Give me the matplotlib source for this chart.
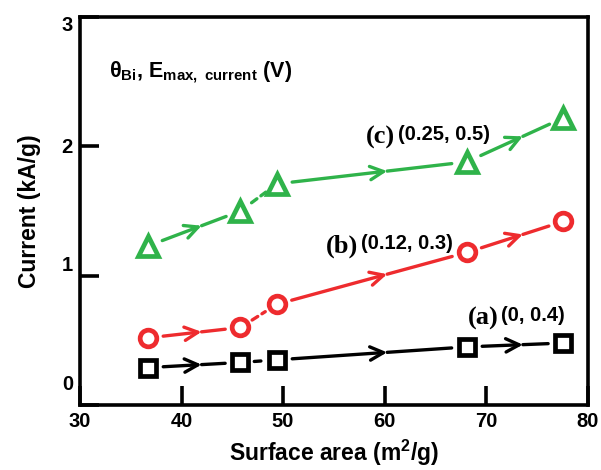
import matplotlib
matplotlib.use('Agg')
import matplotlib.pyplot as plt
from matplotlib.transforms import ScaledTranslation

plt.rcParams['font.family'] = ['Liberation Sans', 'DejaVu Sans']
plt.rcParams['font.weight'] = 'bold'
plt.rcParams['mathtext.fontset'] = 'custom'
plt.rcParams['mathtext.rm'] = 'Liberation Sans:bold'
plt.rcParams['mathtext.it'] = 'Liberation Sans:bold'
plt.rcParams['mathtext.bf'] = 'Liberation Sans:bold'
plt.rcParams['xtick.direction'] = 'in'
plt.rcParams['ytick.direction'] = 'in'
plt.rcParams['xtick.major.size'] = 14
plt.rcParams['ytick.major.size'] = 14
plt.rcParams['xtick.major.width'] = 2.6
plt.rcParams['ytick.major.width'] = 2.6

# surface area (m2/g) of the five catalysts
surface_area = [36.7, 45.8, 49.4, 68.1, 77.6]
# current (kA/g) for each Bi coverage
current_a = [0.29, 0.33, 0.35, 0.45, 0.48]
current_b = [0.52, 0.60, 0.78, 1.18, 1.42]
current_c = [1.23, 1.50, 1.71, 1.88, 2.22]

series_tags = ['(a)', '(b)', '(c)']
series_params = ['(0, 0.4)', '(0.12, 0.3)', '(0.25, 0.5)']

x_ticks = [30, 40, 50, 60, 70, 80]
y_ticks = [0, 1, 2, 3]


def draw_series(ax, xs, ys, color, marker, ms):
    ax.plot(xs, ys, linestyle='none', marker=marker, ms=ms,
            mfc='white', mec=color, mew=3.4, zorder=5)
    for i in range(len(xs) - 1):
        p1 = (xs[i], ys[i])
        p2 = (xs[i + 1], ys[i + 1])
        if i == 1:
            # short dashed link between the two close samples
            ax.annotate('', xy=p2, xytext=p1,
                        arrowprops=dict(arrowstyle='-', color=color, lw=2.4,
                                        linestyle=(0, (2.0, 1.5)),
                                        shrinkA=10, shrinkB=10))
            continue
        mid = (p1[0] + 0.58 * (p2[0] - p1[0]), p1[1] + 0.58 * (p2[1] - p1[1]))
        ax.annotate('', xy=mid, xytext=p1,
                    arrowprops=dict(arrowstyle='->', color=color, lw=2.4,
                                    mutation_scale=24, shrinkA=11, shrinkB=0))
        ax.annotate('', xy=p2, xytext=mid,
                    arrowprops=dict(arrowstyle='-', color=color, lw=2.4,
                                    shrinkA=0, shrinkB=11))


fig = plt.figure(figsize=(6.01, 4.70), dpi=100)
ax = fig.add_axes([0.133, 0.138, 0.845, 0.826])
ax.set_axisbelow(False)

draw_series(ax, surface_area, current_a, 'black', 's', 11)
draw_series(ax, surface_area, current_b, '#ee2b2e', 'o', 12)
draw_series(ax, surface_area, current_c, '#2fb34a', '^', 15)

ax.set_xlim(30, 80)
ax.set_ylim(0, 3)
ax.set_xticks(x_ticks)
ax.set_yticks(y_ticks)
ax.tick_params(labelsize=14.5, pad=5)
for sp in ax.spines.values():
    sp.set_linewidth(2.6)

# nudge the y tick labels the way they sit on the axis
for lab, dy in zip(ax.get_yticklabels(), [16, 8.5, 0.5, -4.5]):
    lab.set_transform(lab.get_transform() + ScaledTranslation(0, dy / 72, fig.dpi_scale_trans))

ax.set_xlabel('Surface area (m$^2$/g)', fontsize=16.5, fontweight='bold', labelpad=5)
ax.set_ylabel('Current (kA/g)', fontsize=16.5, fontweight='bold', labelpad=15)

ax.text(32.9, 2.57, r'$\theta_{Bi}$, E$_{max,\ current}$ (V)', fontsize=15.5,
        fontweight='bold', ha='left', va='center')

# series tags: serif letter followed by (theta, E) pair
tag_pos = [(71.2, 0.67), (57.4, 1.23), (61.0, 2.07)]
for tag, par, (tx, ty) in zip(series_tags, series_params, tag_pos):
    ax.text(tx, ty, tag, family='Liberation Serif', fontsize=19,
            fontweight='bold', ha='right', va='center')
    ax.text(tx + 0.3, ty + 0.02, par, fontsize=14.5, fontweight='bold',
            ha='left', va='center')

fig.savefig('out.png', dpi=100, facecolor='white')
